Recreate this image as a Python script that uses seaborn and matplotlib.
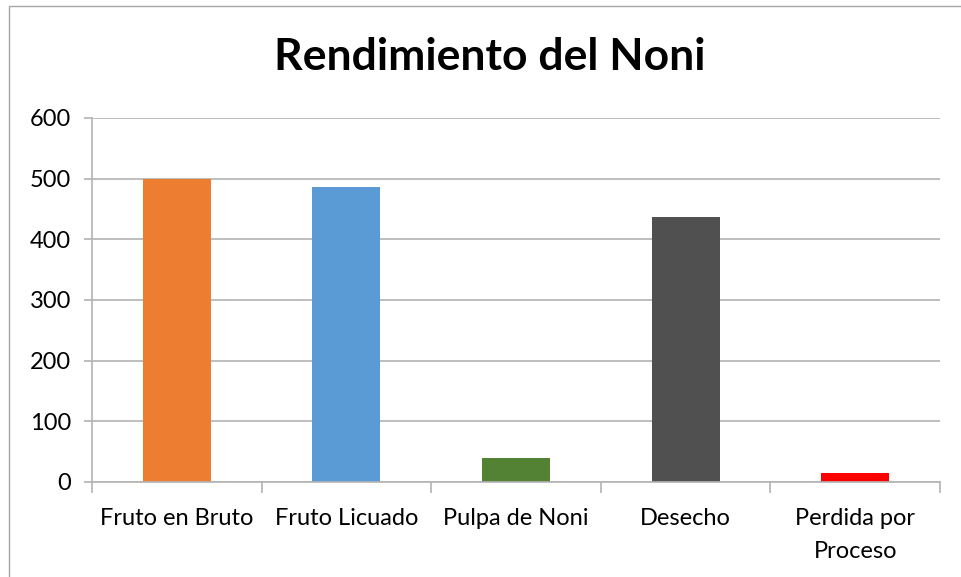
import matplotlib
matplotlib.use("Agg")
import matplotlib.pyplot as plt
import seaborn as sns
import pandas as pd
from matplotlib.patches import Rectangle

categories = ["Fruto en Bruto", "Fruto Licuado", "Pulpa de Noni", "Desecho", "Perdida por\nProceso"]
values = [500, 487, 40, 437, 15]
colors = ["#ED7D31", "#5B9BD5", "#548235", "#505050", "#FF0000"]
yticks = [0, 100, 200, 300, 400, 500, 600]

sns.set_theme(style="white")
plt.rcParams['font.family'] = ['Lato', 'DejaVu Sans']

df = pd.DataFrame({"cat": categories, "val": values})

fig = plt.figure(figsize=(9.61, 5.77), dpi=100)
ax = fig.add_axes([92/961, 1-482/577, (940-92)/961, (482-118)/577])

sns.barplot(data=df, x="cat", y="val", hue="cat", palette=colors, width=0.4,
            legend=False, ax=ax, saturation=1, linewidth=0)

grid = "#B3B3B3"
ax.set_ylim(0, 600)
ax.set_xlim(-0.5, len(categories) - 0.5)
ax.set_yticks(yticks)
ax.set_yticklabels([str(t) for t in yticks])
ax.yaxis.grid(True, color=grid, linewidth=1.2)
ax.set_axisbelow(True)
ax.set_xlabel("")
ax.set_ylabel("")
for s in ["top", "right"]:
    ax.spines[s].set_visible(False)
for s in ["left", "bottom"]:
    ax.spines[s].set_color(grid)
    ax.spines[s].set_linewidth(1.2)

ax.set_xticks([i + 0.5 for i in range(-1, len(categories))], minor=True)
ax.tick_params(axis="x", which="major", length=0, pad=19, labelsize=17, colors="black")
ax.tick_params(axis="x", which="minor", length=8, width=1.2, color=grid, direction="out", bottom=True)
ax.tick_params(axis="y", which="major", length=6, width=1.2, color=grid, pad=9,
               labelsize=17, labelcolor="black", left=True)
for lbl in ax.get_xticklabels():
    lbl.set_linespacing(1.7)

fig.text(490/961, 1-57/577, "Rendimiento del Noni", ha="center", va="center",
         fontsize=32, fontweight="bold", color="black")

fig.patches.append(Rectangle((9/961, -0.1), 1.2, 1.1 - 6/577, transform=fig.transFigure,
                             fill=False, edgecolor="#A6A6A6", linewidth=1.0))

fig.savefig("out.png", dpi=100)
